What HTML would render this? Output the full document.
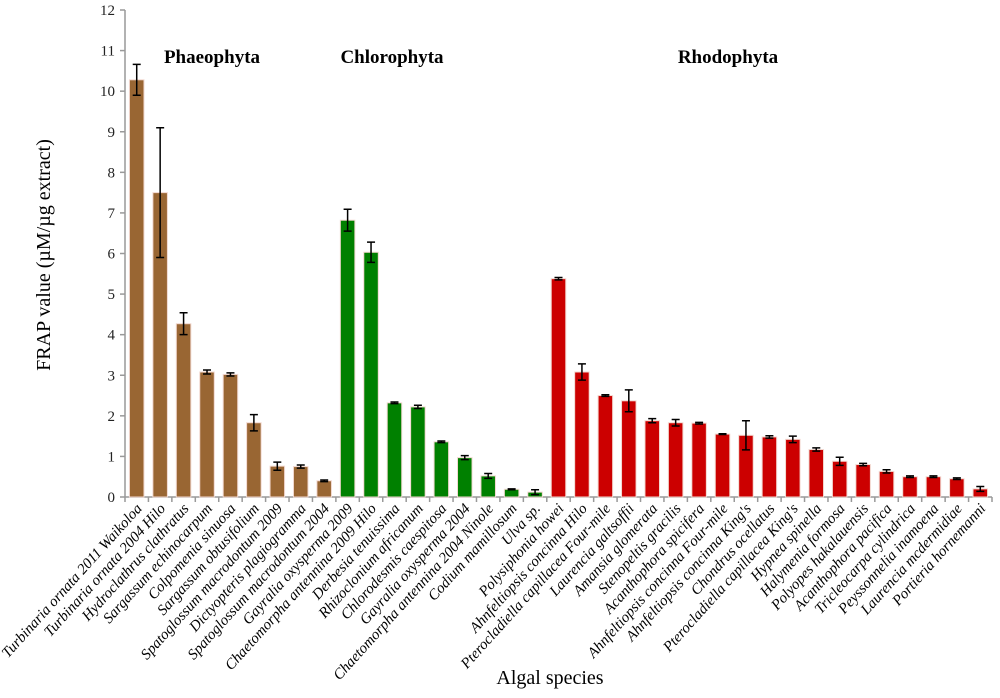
<!DOCTYPE html>
<html><head><meta charset="utf-8"><style>
body{margin:0;background:#fff;}
text{font-family:"Liberation Serif","Times New Roman",serif !important;}
</style></head><body>
<svg id="chart" width="1000" height="693" xmlns="http://www.w3.org/2000/svg" font-family="Liberation Serif, serif">
<g id="grid"></g>
<g id="bars"></g>
<g id="labels"></g>
<text x="212" y="63" text-anchor="middle" font-size="19" font-weight="bold">Phaeophyta</text>
<text x="392" y="63" text-anchor="middle" font-size="19" font-weight="bold">Chlorophyta</text>
<text x="728" y="63" text-anchor="middle" font-size="19" font-weight="bold">Rhodophyta</text>
<text transform="translate(50,255) rotate(-90)" text-anchor="middle" font-size="20">FRAP  value (µM/µg extract)</text>
<text x="550" y="684" text-anchor="middle" font-size="20">Algal species</text>
</svg>
<script>
const categories=["Turbinaria ornata 2011 Waikoloa","Turbinaria ornata 2004 Hilo","Hydroclathrus clathratus","Sargassum echinocarpum","Colpomenia sinuosa","Sargassum obtusifolium","Spatoglossum macrodontum 2009","Dictyopteris plagiogramma","Spatoglossum macrodontum 2004","Gayralia oxysperma 2009","Chaetomorpha antennina 2009 Hilo","Derbesia tenuissima","Rhizoclonium africanum","Chlorodesmis caespitosa","Gayralia oxysperma 2004","Chaetomorpha antennina 2004 Ninole","Codium mamillosum","Ulva sp.","Polysiphonia howei","Ahnfeltiopsis concinna Hilo","Pterocladiella capillacea Four-mile","Laurencia galtsoffii","Amansia glomerata","Stenopeltis gracilis","Acanthophora spicifera","Ahnfeltiopsis concinna Four-mile","Ahnfeltiopsis concinna King's","Chondrus ocellatus","Pterocladiella capillacea King's","Hypnea spinella","Halymenia formosa","Polyopes hakalauensis","Acanthophora pacifica","Tricleocarpa cylindrica","Peyssonnelia inamoena","Laurencia mcdermidiae","Portieria hornemanni"];
const values=[10.28,7.5,4.27,3.08,3.02,1.83,0.76,0.75,0.4,6.82,6.03,2.32,2.22,1.36,0.97,0.52,0.19,0.12,5.38,3.08,2.5,2.37,1.88,1.83,1.82,1.55,1.52,1.48,1.42,1.17,0.88,0.8,0.63,0.5,0.5,0.45,0.2];
const errors=[0.38,1.6,0.27,0.05,0.04,0.2,0.1,0.04,0.02,0.27,0.25,0.02,0.04,0.02,0.05,0.06,0.01,0.06,0.03,0.2,0.02,0.27,0.05,0.08,0.02,0.01,0.36,0.03,0.08,0.04,0.1,0.03,0.04,0.02,0.02,0.02,0.06];
const groups=["p","p","p","p","p","p","p","p","p","c","c","c","c","c","c","c","c","c","r","r","r","r","r","r","r","r","r","r","r","r","r","r","r","r","r","r","r"];
const yTicks=[0,1,2,3,4,5,6,7,8,9,10,11,12];
const colors={p:"#996633",c:"#008000",r:"#cc0000"};
const x0=125,x1=992,y0=497,yTop=10,yMax=12;
const step=(x1-x0)/categories.length;
const ys=v=>y0-(v/yMax)*(y0-yTop);
const xs=i=>x0+step*(i+0.5);
const NS="http://www.w3.org/2000/svg";
function mk(t,a,p){const e=document.createElementNS(NS,t);for(const k in a)e.setAttribute(k,a[k]);p.appendChild(e);return e;}
const grid=document.getElementById('grid'),bars=document.getElementById('bars'),labels=document.getElementById('labels');
const yax=mk('line',{x1:x0,y1:yTop,x2:x0,y2:y0,stroke:'#999','stroke-width':1.5},grid);


const xax=mk('line',{x1:x0,y1:y0,x2:x1,y2:y0,stroke:'#999','stroke-width':1.5},grid);


yTicks.forEach(t=>{
  mk('line',{x1:x0-5,y1:ys(t),x2:x0,y2:ys(t),stroke:'#999','stroke-width':1.5},grid);
  const tx=mk('text',{x:x0-10,y:ys(t)+5,'text-anchor':'end','font-size':15,fill:'#222'},grid);
  tx.textContent=t;
  
  
});
for(let i=0;i<=categories.length;i++){mk('line',{x1:x0+step*i,y1:y0,x2:x0+step*i,y2:y0+5,stroke:'#999','stroke-width':1.5},grid);}
categories.forEach((c,i)=>{
  const w=step*0.62,cx=xs(i);
  const r=mk('rect',{x:cx-w/2,y:ys(values[i]),width:w,height:y0-ys(values[i]),fill:colors[groups[i]],stroke:'#f2d8d0','stroke-width':1},bars);
  
  
  const hi=ys(values[i]+errors[i]),lo=ys(Math.max(0,values[i]-errors[i]));
  const eb=mk('path',{d:`M${cx},${hi}V${lo}M${cx-4},${hi}H${cx+4}M${cx-4},${lo}H${cx+4}`,stroke:'#000','stroke-width':1.5,fill:'none'},bars);
  
  
  const t=mk('text',{transform:`translate(${cx+6},${y0+12}) rotate(-48)`,'text-anchor':'end','font-size':15,'font-style':'italic',fill:'#000'},labels);
  t.textContent=c;
  
  
});
</script>
</body></html>
